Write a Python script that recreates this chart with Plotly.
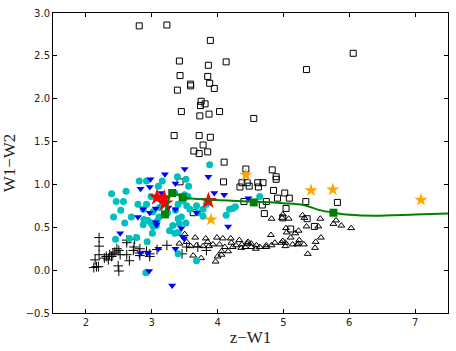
import plotly.graph_objects as go

sq_x = [2.81,3.23,3.89,3.42,3.86,4.13,3.43,3.85,3.59,3.59,3.88,3.95,3.39,3.75,3.81,3.74,3.45,4.03,3.87,3.73,3.34,3.72,3.89,3.78,3.64,3.72,3.85,4.10,4.43,6.06,5.35,4.55,4.83,4.89,4.89,3.43,4.09,4.37,4.45,4.34,4.48,4.40,3.63,4.61,4.69,4.62,4.85,5.02,5.09,4.91,4.74,5.34,5.82,4.68,5.04,4.71,4.99,5.36,5.47,5.11]
sq_y = [2.85,2.86,2.68,2.44,2.39,2.43,2.27,2.26,2.17,2.15,2.18,2.12,2.10,1.97,1.94,1.92,1.85,1.85,1.82,1.80,1.57,1.57,1.55,1.46,1.39,1.36,1.38,1.26,1.18,2.53,2.34,1.77,1.17,1.09,1.06,1.03,1.03,1.02,1.02,0.97,0.98,0.80,0.67,1.02,1.02,0.97,0.93,0.90,0.84,0.84,0.80,0.80,0.79,0.76,0.72,0.66,0.61,0.60,0.51,0.48]

tri_x = [4.82,4.99,4.98,5.08,5.29,5.32,5.56,5.35,5.53,5.76,5.80,5.88,6.03,5.04,5.23,5.18,5.11,5.05,4.81,5.57,5.49,5.48,5.37,5.24,5.23,5.31,5.14,5.21,5.03,4.97,5.03,4.99,4.87,4.82,4.74,4.74,4.64,4.58,4.59,4.51,4.51,3.50,3.66,3.82,3.99,4.08,4.20,4.33,3.42,3.53,3.59,3.68,3.78,3.87,3.93,4.03,4.11,4.21,4.23,4.16,4.06,3.63,3.75,3.97,4.00,4.37,4.42,4.46,3.85,4.45,4.06,4.28,4.36]
tri_y = [0.60,0.65,0.61,0.60,0.64,0.61,0.60,0.51,0.51,0.54,0.58,0.52,0.49,0.49,0.46,0.43,0.38,0.44,0.41,0.38,0.33,0.26,0.19,0.35,0.31,0.30,0.30,0.30,0.32,0.32,0.28,0.34,0.32,0.29,0.29,0.27,0.27,0.25,0.29,0.31,0.27,0.42,0.38,0.37,0.38,0.37,0.37,0.35,0.31,0.33,0.28,0.29,0.28,0.28,0.30,0.30,0.27,0.32,0.27,0.22,0.22,0.17,0.14,0.10,0.16,0.30,0.27,0.33,0.33,0.31,0.18,0.29,0.26]

plus_x = [2.20,2.20,2.20,2.14,2.12,2.19,2.31,2.34,2.39,2.41,2.47,2.50,2.52,2.44,2.49,2.50,2.62,2.62,2.66,2.74,2.73,2.81,2.82,2.92,2.97,2.97,3.08,3.23,2.62,2.72,2.82,3.46,3.53,3.70,3.83,2.16,2.28,2.36]
plus_y = [0.38,0.28,0.18,0.12,0.03,0.04,0.16,0.12,0.16,0.19,0.25,0.23,0.18,0.21,0.05,-0.01,0.32,0.18,0.11,0.36,0.27,0.20,0.17,0.22,0.19,0.16,0.24,0.29,0.35,0.23,0.25,0.19,0.27,0.27,0.23,0.04,0.14,0.18]

cy_x = [2.39,2.46,2.57,2.61,2.81,2.92,3.10,3.16,2.79,2.42,2.69,2.59,2.88,2.94,2.99,2.87,3.02,3.08,3.11,3.12,2.99,3.39,3.52,3.56,3.50,3.88,2.92,2.87,2.45,2.66,2.77,2.93,2.91,3.35,3.47,3.55,3.40,3.36,3.45,3.53,3.58,3.68,3.78,3.83,3.70,3.78,3.27,3.35,3.40,3.42,3.32,3.40,3.68,4.18,4.23,4.13,4.27,4.64,3.01,3.07,3.40,3.52,2.53,3.24,3.02]
cy_y = [0.89,0.80,0.80,0.92,1.04,1.04,0.98,1.04,0.77,0.62,0.62,0.55,0.59,0.58,0.55,0.53,0.51,0.57,0.62,0.73,0.86,1.09,1.06,0.98,0.88,1.23,0.77,0.71,0.36,0.37,0.38,0.33,-0.03,0.90,0.81,0.86,0.77,0.70,0.62,0.75,0.71,0.75,0.71,0.77,0.67,0.63,0.46,0.43,0.44,0.54,0.52,0.19,0.11,0.71,0.72,0.64,0.74,0.86,0.43,0.52,0.60,0.55,0.70,0.67,0.68]

bl_x = [3.20,3.50,3.86,2.83,2.97,3.36,3.95,4.10,4.47,2.87,3.06,3.25,3.36,2.79,2.97,3.06,3.07,3.68,3.45,4.16,2.52,3.47,2.83,2.94,3.10,3.36,2.96,3.31,2.98,3.15,3.49]
bl_y = [1.12,1.18,1.09,0.95,0.97,1.01,0.90,0.88,0.84,0.71,0.72,0.73,0.71,0.62,0.67,0.56,0.53,0.67,0.49,0.51,0.43,0.39,0.20,0.20,0.25,0.25,-0.01,-0.18,1.06,0.90,0.37]

or_x = [4.43,3.90,5.42,5.75,7.09]
or_y = [1.11,0.59,0.93,0.94,0.82]

red_x = [3.08,3.19,3.20,3.86]
red_y = [0.85,0.84,0.78,0.81]

gl_x = [3.20,3.31,3.47,3.90,4.55,5.00,5.30,5.55,5.76,6.00,6.40,7.00,7.50]
gl_y = [0.65,0.90,0.85,0.82,0.80,0.78,0.76,0.70,0.67,0.645,0.635,0.65,0.66]

gs_x = [3.20,3.31,3.47,4.55,5.76]
gs_y = [0.65,0.90,0.85,0.79,0.67]

x_ticks = [2, 3, 4, 5, 6, 7]
y_ticks = [-0.5, 0.0, 0.5, 1.0, 1.5, 2.0, 2.5, 3.0]

fig = go.Figure()
fig.add_trace(go.Scatter(x=sq_x, y=sq_y, mode="markers",
    marker=dict(symbol="square-open", size=6, color="black", line=dict(width=1))))
fig.add_trace(go.Scatter(x=tri_x, y=tri_y, mode="markers",
    marker=dict(symbol="triangle-up-open", size=6, color="black", line=dict(width=1))))
fig.add_trace(go.Scatter(x=plus_x, y=plus_y, mode="markers",
    marker=dict(symbol="cross-thin", size=7, color="black", line=dict(width=1, color="black"))))
fig.add_trace(go.Scatter(x=cy_x, y=cy_y, mode="markers",
    marker=dict(symbol="circle", size=7, color="#00BFBF", line=dict(width=0))))
fig.add_trace(go.Scatter(x=bl_x, y=bl_y, mode="markers",
    marker=dict(symbol="triangle-down", size=7, color="#0000FF", line=dict(width=0))))
fig.add_trace(go.Scatter(x=or_x, y=or_y, mode="markers",
    marker=dict(symbol="star", size=10, color="#FFA500", line=dict(width=0))))
fig.add_trace(go.Scatter(x=red_x, y=red_y, mode="markers",
    marker=dict(symbol="star", size=13, color="#FF0000", line=dict(width=0))))
fig.add_trace(go.Scatter(x=gl_x, y=gl_y, mode="lines", line=dict(color="#008000", width=2, shape="spline", smoothing=0.8)))
fig.add_trace(go.Scatter(x=gs_x, y=gs_y, mode="markers",
    marker=dict(symbol="square", size=8, color="#008000", line=dict(width=0))))

axis_common = dict(showline=True, linecolor="black", linewidth=1, mirror="ticks",
                   ticks="inside", ticklen=4, tickcolor="black", showgrid=False, zeroline=False,
                   tickfont=dict(family="DejaVu Sans", size=10, color="#222"))
fig.update_xaxes(range=[1.5, 7.5], tickvals=x_ticks, ticktext=[str(v) for v in x_ticks],
                 title=dict(text="z−W1", font=dict(family="Liberation Serif", size=17, color="#222"), standoff=4),
                 **axis_common)
fig.update_yaxes(range=[-0.5, 3.0], tickvals=y_ticks, ticktext=[("−" if v < 0 else "") + f"{abs(v):.1f}" for v in y_ticks],
                 title=dict(text="W1−W2", font=dict(family="Liberation Serif", size=17, color="#222"), standoff=6),
                 **axis_common)
fig.update_layout(width=456, height=351, margin=dict(l=53, r=7, t=10, b=35),
                  paper_bgcolor="white", plot_bgcolor="white", showlegend=False)
fig.write_html("out.html")
